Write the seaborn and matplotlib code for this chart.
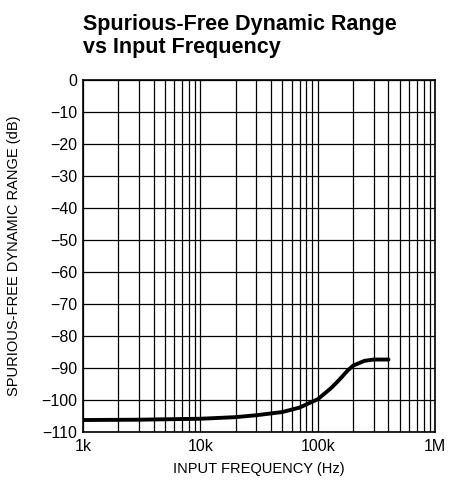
import numpy as np
import pandas as pd
import matplotlib
matplotlib.use("Agg")
import matplotlib.pyplot as plt
import seaborn as sns
from matplotlib.ticker import FixedLocator, LogLocator, NullFormatter

# curve
freq_hz = [1e3, 3e3, 10e3, 20e3, 30e3, 50e3, 70e3, 100e3, 130e3, 150e3, 180e3, 200e3, 250e3, 300e3, 400e3]
sfdr_db = [-106.3, -106.2, -105.9, -105.4, -104.8, -103.8, -102.4, -99.8, -96.3, -94.0, -90.8, -89.3, -87.8, -87.4, -87.4]

x_ticks = [1e3, 1e4, 1e5, 1e6]
x_labels = ["1k", "10k", "100k", "1M"]
y_ticks = list(range(-110, 1, 10))

sns.set_theme(style="white")
plt.rcParams["font.family"] = ["Liberation Sans Narrow", "Liberation Sans", "DejaVu Sans"]
plt.rcParams["axes.unicode_minus"] = True
plt.rcParams["text.color"] = "black"

df = pd.DataFrame({"freq": freq_hz, "sfdr": sfdr_db})

fig = plt.figure(figsize=(4.63, 4.93), dpi=100)
ax = fig.add_axes([0.179, 0.124, 0.761, 0.714])

sns.lineplot(data=df, x="freq", y="sfdr", ax=ax, color="black", linewidth=2.8)

ax.set_xscale("log")
ax.set_xlim(1e3, 1e6)
ax.set_ylim(-110, 0)
ax.xaxis.set_major_locator(FixedLocator(x_ticks))
ax.set_xticklabels(x_labels)
ax.xaxis.set_minor_locator(LogLocator(base=10, subs=np.arange(2, 10)))
ax.xaxis.set_minor_formatter(NullFormatter())
ax.set_yticks(y_ticks)
ax.set_yticklabels([f"{v}".replace("-", "\u2212") for v in y_ticks])

ax.grid(True, which="both", color="black", linewidth=0.9)
for s in ax.spines.values():
    s.set_color("black")
    s.set_linewidth(1.2)
ax.tick_params(axis="both", which="both", length=0, labelsize=11.5, colors="black")
ax.tick_params(axis="x", pad=5)
ax.tick_params(axis="y", pad=4)

ax.set_xlabel("INPUT FREQUENCY (Hz)", fontsize=10.5, color="black", labelpad=6)
ax.set_ylabel("SPURIOUS-FREE DYNAMIC RANGE (dB)", fontsize=10.5, color="black")
ax.yaxis.set_label_coords(-0.175, 0.5)

fig.text(0.179, 0.972, "Spurious-Free Dynamic Range\nvs Input Frequency",
         fontsize=15.5, fontweight="bold", color="black", ha="left", va="top", linespacing=1.15)

fig.savefig("out.png", dpi=100, facecolor="white")
